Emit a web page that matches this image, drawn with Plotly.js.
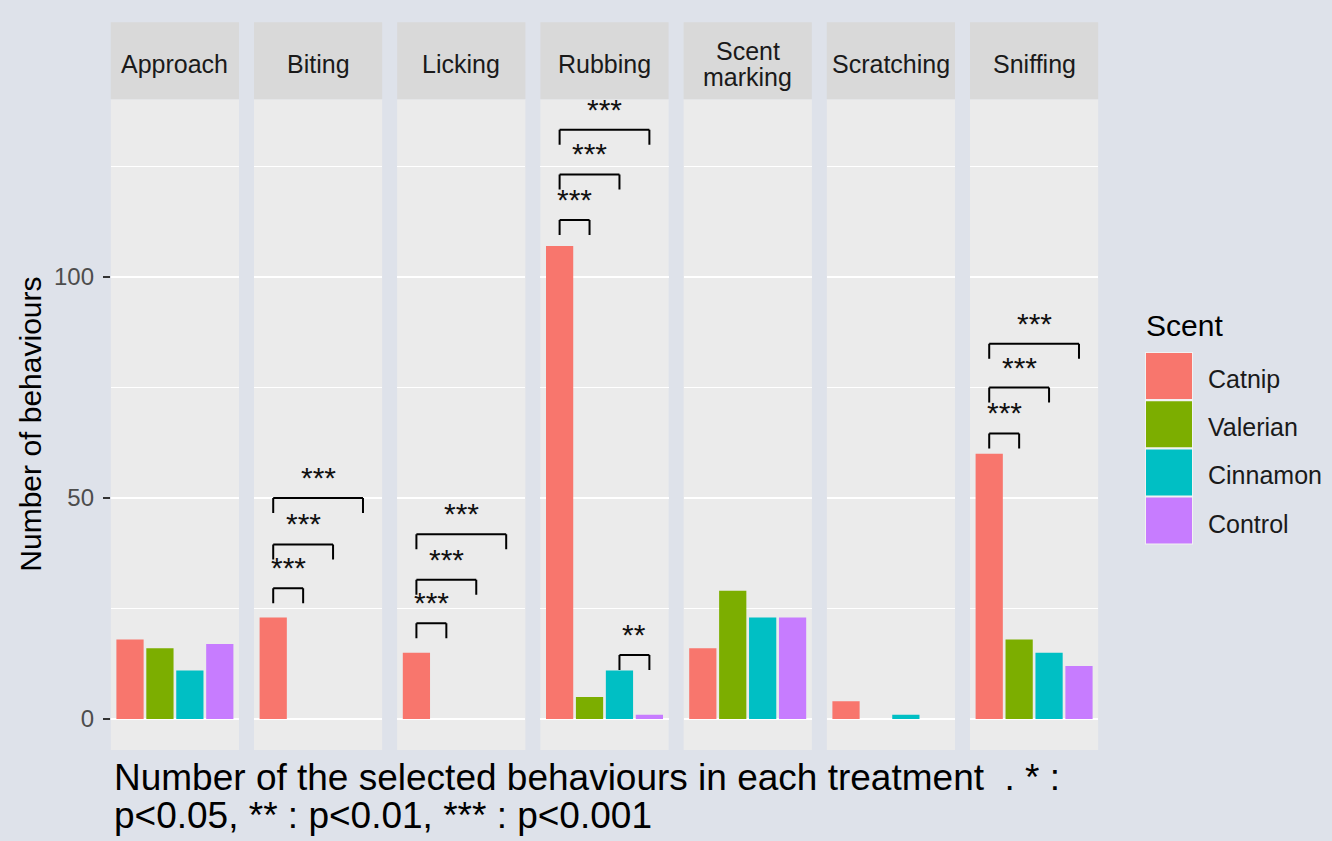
<!DOCTYPE html>
<html>
<head>
<meta charset="utf-8">
<script src="https://cdn.plot.ly/plotly-3.0.1.min.js"></script>
<style>
  html, body { margin: 0; padding: 0; background: #dee2ea; }
  #chart { width: 1332px; height: 841px; }
</style>
</head>
<body>
<div id="chart"></div>
<script>
// Scent treatments and their fill colours
const scents = ['Catnip', 'Valerian', 'Cinnamon', 'Control'];
const scentColors = ['#F8766D', '#7CAE00', '#00BFC4', '#C77CFF'];

// Behaviour facets (strip labels may wrap onto two lines)
const behaviours = ['Approach', 'Biting', 'Licking', 'Rubbing', 'Scent marking', 'Scratching', 'Sniffing'];
const stripLabels = ['Approach', 'Biting', 'Licking', 'Rubbing', 'Scent<br>marking', 'Scratching', 'Sniffing'];

// Number of behaviours per facet, one array per scent
const catnip   = [18, 23, 15, 107, 16, 4, 60];
const valerian = [16, 0, 0, 5, 29, 0, 18];
const cinnamon = [11, 0, 0, 11, 23, 1, 15];
const control  = [17, 0, 0, 1, 23, 0, 12];

// Pairwise significance brackets
const sigFacet = ['Biting', 'Biting', 'Biting', 'Licking', 'Licking', 'Licking',
                  'Rubbing', 'Rubbing', 'Rubbing', 'Rubbing', 'Sniffing', 'Sniffing', 'Sniffing'];
const sigFrom  = ['Catnip', 'Catnip', 'Catnip', 'Catnip', 'Catnip', 'Catnip',
                  'Catnip', 'Catnip', 'Catnip', 'Cinnamon', 'Catnip', 'Catnip', 'Catnip'];
const sigTo    = ['Valerian', 'Cinnamon', 'Control', 'Valerian', 'Cinnamon', 'Control',
                  'Valerian', 'Cinnamon', 'Control', 'Control', 'Valerian', 'Cinnamon', 'Control'];
const sigY     = [29.6, 39.5, 50.0, 21.7, 31.5, 41.8, 112.9, 123.2, 133.3, 14.5, 64.6, 75.0, 84.9];
const sigLabel = ['***', '***', '***', '***', '***', '***', '***', '***', '***', '**', '***', '***', '***'];

// Axis ticks
const yTicks = [0, 50, 100];
const yMinor = [25, 75, 125];

const yTitle = 'Number of behaviours';
const legendTitle = 'Scent';
const captionLines = ['Number of the selected behaviours in each treatment\u00a0 . * :',
                      'p<0.05, ** : p<0.01, *** : p<0.001'];

// ---- page geometry (pixels) ----
const W = 1332, H = 841;
const FONT = 'Liberation Sans, Arial, Helvetica, sans-serif';
const panelLeft0 = 110.8, panelStep = 143.2, panelWidth = 128.2;
const panelTop = 99.3, panelBottom = 750, stripTop = 22.3;
const fx = px => px / W;
const fy = py => 1 - py / H;
const tipLen = 3.4;

const seriesByScent = [catnip, valerian, cinnamon, control];

const traces = [];
const shapes = [];
const annotations = [];
const layout = {
  width: W, height: H,
  margin: { l: 0, r: 0, t: 0, b: 0, pad: 0 },
  paper_bgcolor: '#dee2ea',
  plot_bgcolor: '#ebebeb',
  bargap: 0.09,
  showlegend: false,
  font: { family: FONT, color: '#1a1a1a' },
  yaxis: {
    domain: [fy(panelBottom), fy(panelTop)],
    range: [-7, 140.2],
    anchor: 'x',
    tickmode: 'array',
    tickvals: yTicks,
    ticktext: yTicks.map(String),
    ticks: 'outside', ticklen: 7, tickwidth: 2, tickcolor: '#333333',
    tickfont: { family: FONT, size: 24, color: '#4d4d4d' },
    ticklabelstandoff: 4,
    showgrid: true, gridcolor: '#ffffff', gridwidth: 2,
    minor: { tickmode: 'array', tickvals: yMinor, showgrid: true, gridcolor: '#ffffff', gridwidth: 1.2, ticks: '' },
    zeroline: false, showline: false, automargin: false, fixedrange: true
  },
  shapes: shapes,
  annotations: annotations
};

behaviours.forEach((b, i) => {
  const axId = i === 0 ? 'x' : 'x' + (i + 1);
  const axKey = i === 0 ? 'xaxis' : 'xaxis' + (i + 1);
  const L = panelLeft0 + i * panelStep, R = L + panelWidth;
  layout[axKey] = {
    domain: [fx(L), fx(R)],
    type: 'category',
    categoryorder: 'array', categoryarray: scents,
    range: [-0.642, 3.642],
    anchor: 'y',
    showticklabels: false, ticks: '', showgrid: false, zeroline: false, showline: false,
    automargin: false, fixedrange: true
  };
  traces.push({
    type: 'bar',
    x: scents,
    y: seriesByScent.map(s => s[i]),
    xaxis: axId, yaxis: 'y',
    marker: { color: scentColors, line: { width: 0 } },
    hoverinfo: 'x+y'
  });

  // strip header
  shapes.push({
    type: 'rect', xref: 'paper', yref: 'paper', layer: 'below',
    x0: fx(L), x1: fx(R), y0: fy(panelTop), y1: fy(stripTop),
    fillcolor: '#d9d9d9', line: { width: 0 }
  });
  const lines = stripLabels[i].split('<br>');
  lines.forEach((ln, k) => {
    const cy = 64 + (k - (lines.length - 1) / 2) * 25.5;
    annotations.push({
      xref: 'paper', yref: 'paper', x: fx((L + R) / 2), y: fy(cy),
      xanchor: 'center', yanchor: 'middle', showarrow: false,
      text: ln, font: { family: FONT, size: 25, color: '#1a1a1a' }
    });
  });
});

// significance brackets and stars
sigFacet.forEach((f, j) => {
  const i = behaviours.indexOf(f);
  const axId = i === 0 ? 'x' : 'x' + (i + 1);
  const a = scents.indexOf(sigFrom[j]), b = scents.indexOf(sigTo[j]);
  const y = sigY[j];
  const ln = { color: '#000000', width: 2 };
  shapes.push({ type: 'line', xref: axId, yref: 'y', x0: a, x1: a, y0: y - tipLen, y1: y, line: ln });
  shapes.push({ type: 'line', xref: axId, yref: 'y', x0: a, x1: b, y0: y, y1: y, line: ln });
  shapes.push({ type: 'line', xref: axId, yref: 'y', x0: b, x1: b, y0: y - tipLen, y1: y, line: ln });
  annotations.push({
    xref: axId, yref: 'y', x: (a + b) / 2, y: y,
    xanchor: 'center', yanchor: 'bottom', yshift: 2, showarrow: false,
    text: sigLabel[j], font: { family: FONT, size: 30, color: '#111111' }
  });
});

// y axis title
annotations.push({
  xref: 'paper', yref: 'paper', x: fx(31), y: fy((panelTop + panelBottom) / 2),
  xanchor: 'center', yanchor: 'middle', textangle: -90, showarrow: false,
  text: yTitle, font: { family: FONT, size: 30, color: '#000000' }
});

// legend
annotations.push({
  xref: 'paper', yref: 'paper', x: fx(1144), y: fy(325.6),
  xanchor: 'left', yanchor: 'middle', showarrow: false,
  text: legendTitle, font: { family: FONT, size: 30, color: '#000000' }
});
const keyX0 = 1146, keyX1 = 1192, keyTop = 353, keyStep = 48.2, keyH = 46;
shapes.push({
  type: 'rect', xref: 'paper', yref: 'paper',
  x0: fx(keyX0 - 1), x1: fx(keyX1 + 1), y0: fy(keyTop - 1), y1: fy(keyTop + 3 * keyStep + keyH + 1),
  fillcolor: '#f2f2f2', line: { width: 0 }
});
scents.forEach((s, k) => {
  const t = keyTop + k * keyStep;
  shapes.push({
    type: 'rect', xref: 'paper', yref: 'paper',
    x0: fx(keyX0), x1: fx(keyX1), y0: fy(t + keyH), y1: fy(t),
    fillcolor: scentColors[k], line: { width: 0 }
  });
  annotations.push({
    xref: 'paper', yref: 'paper', x: fx(1206), y: fy(t + keyH / 2 + 3),
    xanchor: 'left', yanchor: 'middle', showarrow: false,
    text: s, font: { family: FONT, size: 25, color: '#1a1a1a' }
  });
});

// caption
captionLines.forEach((c, k) => {
  annotations.push({
    xref: 'paper', yref: 'paper', x: fx(112), y: fy(777.2 + k * 38.3),
    xanchor: 'left', yanchor: 'middle', showarrow: false,
    text: c, font: { family: FONT, size: 37, color: '#000000' }
  });
});

Plotly.newPlot('chart', traces, layout, { displayModeBar: false, staticPlot: true });
</script>
</body>
</html>
